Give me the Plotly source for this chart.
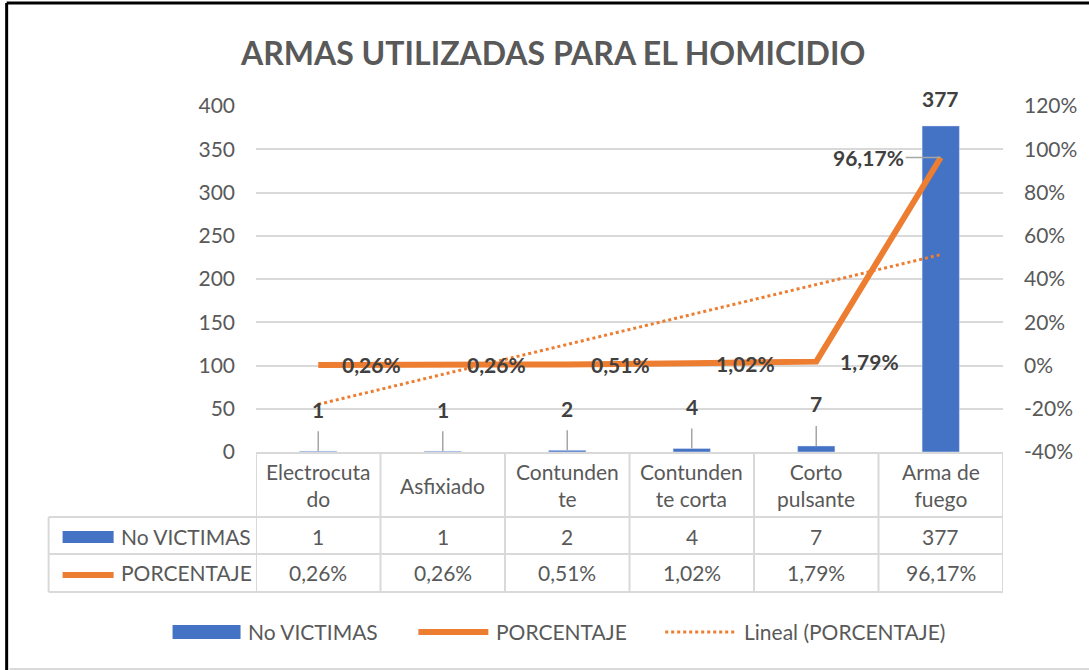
import numpy as np
import plotly.graph_objects as go

categories = ["Electrocutado", "Asfixiado", "Contundente", "Contundente corta", "Corto pulsante", "Arma de fuego"]
header_labels = ["Electrocuta<br>do", "Asfixiado", "Contunden<br>te", "Contunden<br>te corta", "Corto<br>pulsante", "Arma de<br>fuego"]
victimas = [1, 1, 2, 4, 7, 377]
porcentaje = [0.0026, 0.0026, 0.0051, 0.0102, 0.0179, 0.9617]
porcentaje_text = ["0,26%", "0,26%", "0,51%", "1,02%", "1,79%", "96,17%"]
left_ticks = [0, 50, 100, 150, 200, 250, 300, 350, 400]
right_tickvals = [-0.4, -0.2, 0, 0.2, 0.4, 0.6, 0.8, 1.0, 1.2]
right_ticktext = ["-40%", "-20%", "0%", "20%", "40%", "60%", "80%", "100%", "120%"]

BLUE = "#4472C4"
ORANGE = "#ED7D31"
GRID = "#d9d9d9"
TXT = "#595959"
LBL = "#404040"
FONT = "Lato"
FS = 21

x = np.arange(len(categories))
coef = np.polyfit(x + 1, np.array(porcentaje), 1)
trend = np.polyval(coef, x + 1)

fig = go.Figure()
fig.add_trace(go.Bar(x=x, y=victimas, marker_color=BLUE, width=0.3, name="No VICTIMAS"))
fig.add_trace(go.Scatter(x=x, y=porcentaje, yaxis="y2", mode="lines",
                         line=dict(color=ORANGE, width=6), name="PORCENTAJE"))
fig.add_trace(go.Scatter(x=x, y=trend, yaxis="y2", mode="lines",
                         line=dict(color=ORANGE, width=3, dash="dot"), name="Lineal (PORCENTAJE)"))

ann = []
shapes = []


def txt(**kw):
    d = dict(showarrow=False, xanchor="center", yanchor="middle")
    d.update(kw)
    return d


# bar data labels
for i, v in enumerate(victimas):
    if v < 50:
        ann.append(dict(x=i, y=v, xref="x", yref="y", text=f"<b>{v}</b>", showarrow=True,
                        arrowhead=0, arrowwidth=1.5, arrowcolor="#a6a6a6", ax=0, ay=-42,
                        startstandoff=8, font=dict(size=FS, color=LBL, family=FONT)))
    else:
        ann.append(dict(x=i, y=v, xref="x", yref="y", text=f"<b>{v}</b>", showarrow=False,
                        xanchor="center", yanchor="bottom", yshift=13,
                        font=dict(size=FS, color=LBL, family=FONT)))

# line data labels
for i, (p, t) in enumerate(zip(porcentaje, porcentaje_text)):
    if p < 0.5:
        ann.append(txt(x=i, y=p, xref="x", yref="y2", text=f"<b>{t}</b>",
                       xanchor="left", xshift=22, font=dict(size=FS, color=LBL, family=FONT)))
    else:
        ann.append(dict(x=i, y=p, xref="x", yref="y2", text=f"<b>{t}</b>", showarrow=True,
                        arrowhead=0, arrowwidth=1.5, arrowcolor="#a6a6a6", ax=-72, ay=0,
                        font=dict(size=FS, color=LBL, family=FONT)))

# title
ann.append(txt(x=0.3967, y=1.156, xref="paper", yref="paper",
               text="<b>ARMAS UTILIZADAS PARA EL HOMICIDIO</b>",
               font=dict(size=32, color=TXT, family=FONT)))

# data table
Y_HEAD = -0.0954
Y_R1 = -0.2428
Y_R2 = -0.3497
L1, L2, L3 = -0.1879, -0.2948, -0.4046
XL = -0.2776
for i in range(len(categories)):
    ann.append(txt(x=i, y=Y_HEAD, xref="x", yref="paper", text=header_labels[i],
                   font=dict(size=FS, color=TXT, family=FONT)))
    ann.append(txt(x=i, y=Y_R1, xref="x", yref="paper", text=str(victimas[i]),
                   font=dict(size=FS, color=TXT, family=FONT)))
    ann.append(txt(x=i, y=Y_R2, xref="x", yref="paper", text=porcentaje_text[i],
                   font=dict(size=FS, color=TXT, family=FONT)))
for b in np.arange(-0.5, len(categories), 1.0):
    shapes.append(dict(type="line", xref="x", yref="paper", x0=b, x1=b, y0=0, y1=L3,
                       line=dict(color=GRID, width=2)))
for yy in (L1, L2, L3):
    shapes.append(dict(type="line", xref="paper", yref="paper", x0=XL, x1=1.0, y0=yy, y1=yy,
                       line=dict(color=GRID, width=2)))
shapes.append(dict(type="line", xref="paper", yref="paper", x0=XL, x1=XL, y0=L1, y1=L3,
                   line=dict(color=GRID, width=2)))
# row keys
shapes.append(dict(type="rect", xref="paper", yref="paper", x0=-0.2589, x1=-0.1906, y0=-0.2283, y1=-0.2632,
                   fillcolor=BLUE, line=dict(width=0)))
shapes.append(dict(type="line", xref="paper", yref="paper", x0=-0.2589, x1=-0.1906, y0=-0.3555, y1=-0.3555,
                   line=dict(color=ORANGE, width=6)))
ann.append(txt(x=-0.1839, y=Y_R1, xref="paper", yref="paper", text="No VICTIMAS",
               xanchor="left", font=dict(size=FS, color=TXT, family=FONT)))
ann.append(txt(x=-0.1839, y=Y_R2, xref="paper", yref="paper", text="PORCENTAJE",
               xanchor="left", font=dict(size=FS, color=TXT, family=FONT)))

# legend
YL = -0.5202
shapes.append(dict(type="rect", xref="paper", yref="paper", x0=-0.1117, x1=-0.0207, y0=-0.5000, y1=-0.5405,
                   fillcolor=BLUE, line=dict(width=0)))
shapes.append(dict(type="line", xref="paper", yref="paper", x0=0.2174, x1=0.3110, y0=YL, y1=YL,
                   line=dict(color=ORANGE, width=6)))
shapes.append(dict(type="line", xref="paper", yref="paper", x0=0.5478, x1=0.6415, y0=YL, y1=YL,
                   line=dict(color=ORANGE, width=3, dash="dot")))
for xx, t in [(-0.0140, "No VICTIMAS"), (0.3191, "PORCENTAJE"), (0.6508, "Lineal (PORCENTAJE)")]:
    ann.append(txt(x=xx, y=YL, xref="paper", yref="paper", text=t, xanchor="left",
                   font=dict(size=FS, color=TXT, family=FONT)))

# outer frame (black top/left edge, light bottom edge)
shapes.append(dict(type="line", xref="paper", yref="paper", x0=-0.3338, x1=-0.3338, y0=1.2977, y1=-0.63,
                   line=dict(color="black", width=3)))
shapes.append(dict(type="line", xref="paper", yref="paper", x0=-0.3338, x1=1.12, y0=1.2977, y1=1.2977,
                   line=dict(color="black", width=3)))
shapes.append(dict(type="line", xref="paper", yref="paper", x0=-0.330, x1=1.12, y0=-0.627, y1=-0.627,
                   line=dict(color=GRID, width=2)))

fig.update_layout(
    width=1089, height=670,
    margin=dict(l=255.5, r=86, t=106, b=218),
    paper_bgcolor="white", plot_bgcolor="white",
    showlegend=False,
    font=dict(family=FONT, color=TXT),
    xaxis=dict(range=[-0.5, 5.5], showticklabels=False, showgrid=False, zeroline=False,
               showline=True, linecolor=GRID, linewidth=2, ticks=""),
    yaxis=dict(range=[0, 400], tickvals=left_ticks, showgrid=True, gridcolor=GRID, gridwidth=1.5,
               zeroline=False, showline=False, ticks="", ticklabelstandoff=20,
               tickfont=dict(size=FS, color=TXT, family=FONT)),
    yaxis2=dict(range=[-0.4, 1.2], overlaying="y", side="right", tickvals=right_tickvals,
                ticktext=right_ticktext, showgrid=False, zeroline=False, showline=False, ticks="",
                ticklabelstandoff=20, tickfont=dict(size=FS, color=TXT, family=FONT)),
    annotations=ann,
    shapes=shapes,
)

fig.write_html("out.html", config={"displayModeBar": False},
               post_script="document.body.style.margin='0';")
